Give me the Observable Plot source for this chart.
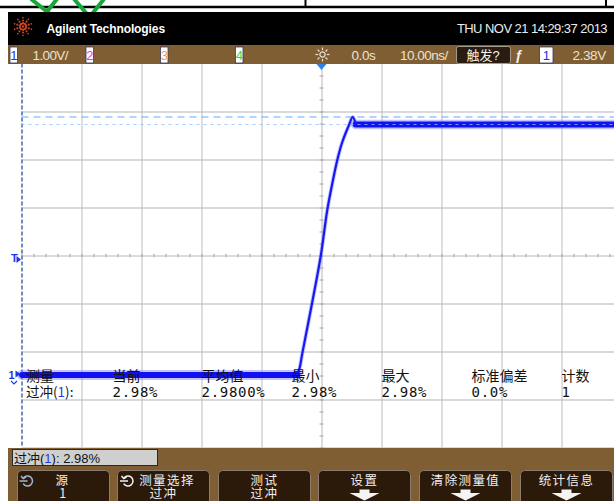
<!DOCTYPE html>
<html>
<head>
<meta charset="utf-8">
<script src="https://cdn.jsdelivr.net/npm/d3@7"></script>
<script src="https://cdn.jsdelivr.net/npm/@observablehq/plot@0.6"></script>
<style>
  html, body { margin: 0; padding: 0; background: #fff; }
  #screen { position: relative; width: 614px; height: 501px; overflow: hidden; background: #fff; }
  #screen > svg { position: absolute; left: 0; top: 0; }
</style>
</head>
<body>
<div id="screen"></div>
<script>
// ---- Scope settings ----
const voltsPerDiv = 1.00;
const centerVolts = 2.48;          // level at the middle graticule line
const timeWindow = [-50, 48.75];   // ns, trigger point at 0
const nsPerDiv = 10;

// ---- Channel 1 step response (time in ns, level in V) ----
const baseVolts = 0;
const topVolts = 5.22;
const overshootPct = 2.98;
const maxVolts = topVolts + (topVolts - baseVolts) * overshootPct / 100;

const lowTime  = [-50, -4.1];
const highTime = [5.6, 48.75];
const edgeTime  = [-4.1, -3.7, -3.3, -1.9, -0.25, 0.87, 1.7, 2.53, 3.37, 4.47, 5.13, 5.6];
const edgeVolts = [baseVolts, 0.16, 0.44, 1.34, 2.45, 3.43, 3.98, 4.47, 4.85, 5.2, maxVolts, 5.23];

// ---- Status line ----
const headerBrand = "Agilent Technologies";
const headerDate = "THU NOV 21 14:29:37 2013";
const channelLabels = ["1", "2", "3", "4"];
const channelColors = ["#2233dd", "#ff22ff", "#eea040", "#22dd55"];
const vScaleText = "1.00V/";
const delayText = "0.0s";
const timebaseText = "10.00ns/";
const triggerStateText = "触发?";
const triggerSource = "1";
const triggerLevelText = "2.38V";

// ---- Measurement statistics ----
const statHeads  = ["测量", "当前", "平均值", "最小", "最大", "标准偏差", "计数"];
const statValues = ["过冲(1):", "2.98%", "2.9800%", "2.98%", "2.98%", "0.0%", "1"];
const readoutText = ["过冲(", "1", "): 2.98%"];

// ---- Softkeys ----
const softkeyTop    = ["源", "测量选择", "测试", "设置", "清除测量值", "统计信息"];
const softkeyBottom = ["1", "过冲", "过冲", null, null, null];

// ---- Layout ----
const W = 614, H = 501;
const statColumnX = [26, 112.5, 201.5, 291.5, 381.5, 471.5, 561.5];
const softkeyX = [17.5, 117.5, 218.5, 318.5, 419.5, 520.5];
const softkeyW = 92;
const softkeyTextShift = [-1, 3.5, 0, 0, 0, 0];
const brown = "#7f5e34";

const lowSeg  = lowTime.map(t => ({t, v: baseVolts}));
const highSeg = highTime.map(t => ({t, v: topVolts}));
const edge    = edgeTime.map((t, i) => ({t, v: edgeVolts[i]}));

const verticalDivs   = d3.range(-4, 5).filter(k => k !== 0).map(k => k * nsPerDiv);
const horizontalDivs = d3.range(-4, 4).filter(k => k !== 0).map(k => centerVolts + k * voltsPerDiv);
const minorTimes = d3.range(-50, 49, nsPerDiv / 5);
const minorVolts = d3.range(-16, 17).map(k => centerVolts + k * voltsPerDiv / 4);

const plot = Plot.plot({
  width: W,
  height: H,
  marginTop: 63.5,
  marginBottom: 53.5,
  marginLeft: 21.5,
  marginRight: 0,
  x: {domain: timeWindow, axis: null},
  y: {domain: [centerVolts - 4 * voltsPerDiv, centerVolts + 4 * voltsPerDiv], axis: null},
  style: {background: "white"},
  marks: [
    // graticule
    Plot.ruleY(horizontalDivs, {stroke: "#d9d9d9", strokeWidth: 2}),
    Plot.ruleX(verticalDivs, {stroke: "#bcbcbc", strokeWidth: 1}),
    Plot.ruleX([0], {stroke: "#b8b8b8", strokeWidth: 1}),
    Plot.ruleY([centerVolts], {stroke: "#b8b8b8", strokeWidth: 1}),
    Plot.ruleX(minorTimes, {y1: centerVolts - 0.035, y2: centerVolts + 0.035, stroke: "#a4a4a4"}),
    Plot.ruleY(minorVolts, {x1: -0.33, x2: 0.33, stroke: "#a4a4a4"}),
    Plot.ruleX([timeWindow[0]], {stroke: "#6f8fb8", strokeWidth: 2, strokeDasharray: "4,2"}),
    // overshoot marker (maximum)
    Plot.ruleY([maxVolts], {stroke: "#5eaaff", strokeWidth: 1.2, strokeDasharray: "7,5"}),
    // trace halo
    Plot.line(lowSeg,  {x: "t", y: "v", stroke: "#7a7aff", strokeWidth: 10, strokeOpacity: 0.45}),
    Plot.line(highSeg, {x: "t", y: "v", stroke: "#7a7aff", strokeWidth: 9.5, strokeOpacity: 0.45}),
    Plot.line(edge,    {x: "t", y: "v", stroke: "#7a7aff", strokeWidth: 4, strokeOpacity: 0.45, curve: "catmull-rom"}),
    // trace core
    Plot.line(lowSeg,  {x: "t", y: "v", stroke: "#1212ee", strokeWidth: 6}),
    Plot.line(highSeg, {x: "t", y: "v", stroke: "#1212ee", strokeWidth: 6}),
    Plot.line(edge,    {x: "t", y: "v", stroke: "#1818f2", strokeWidth: 2.2, curve: "catmull-rom", strokeLinejoin: "round"}),
    // top level marker
    Plot.ruleY([topVolts], {stroke: "#86c2ff", strokeWidth: 1, strokeDasharray: "3,4", strokeOpacity: 0.8})
  ]
});
document.getElementById("screen").appendChild(plot);

// ---- Instrument chrome ----
const ov = d3.create("svg")
  .attr("width", W).attr("height", H)
  .attr("viewBox", `0 0 ${W} ${H}`)
  .style("font-family", "'Liberation Sans', 'Noto Sans CJK SC', sans-serif");

// strip above the screen
ov.append("line").attr("x1", 0).attr("x2", W).attr("y1", 7).attr("y2", 7).attr("stroke", "#000").attr("stroke-width", 2.5);
ov.append("line").attr("x1", 305.5).attr("x2", 305.5).attr("y1", 0).attr("y2", 7).attr("stroke", "#000").attr("stroke-width", 2);
ov.append("line").attr("x1", 606).attr("x2", 606).attr("y1", 0).attr("y2", 7).attr("stroke", "#000").attr("stroke-width", 2);
const green = ov.append("g").attr("stroke", "#18a83a").attr("stroke-width", 4).attr("fill", "none");
green.append("path").attr("d", "M31,-1 L50,14 M57,-1 L45,14");
green.append("path").attr("d", "M74,-1 L87,14 M104,-1 L92,14");

// header
ov.append("rect").attr("x", 8).attr("y", 12).attr("width", W - 8).attr("height", 33).attr("fill", "#000");
const logo = ov.append("g").attr("transform", "translate(23,26.5)");
for (let i = 0; i < 10; i++) {
  const a = i * Math.PI / 5 + Math.PI / 10;
  for (const [r, s] of [[3.2, 1.2], [6, 1.05], [8.8, 0.85]]) {
    logo.append("circle").attr("cx", r * Math.cos(a)).attr("cy", r * Math.sin(a)).attr("r", s).attr("fill", "#cc4420");
  }
}
logo.append("circle").attr("r", 1.2).attr("fill", "#cc4420");
ov.append("text").attr("x", 46.5).attr("y", 32.5).attr("fill", "#fff").attr("font-size", 12).attr("font-weight", "bold")
  .attr("letter-spacing", -0.1).text(headerBrand);
ov.append("text").attr("x", 607).attr("y", 33).attr("text-anchor", "end").attr("fill", "#ececec").attr("font-size", 13)
  .attr("letter-spacing", -0.55).text(headerDate);

// status line
ov.append("rect").attr("x", 8).attr("y", 45).attr("width", W - 8).attr("height", 19).attr("fill", brown);
const chanBoxX = [10, 86, 160.5, 235.5];
channelLabels.forEach((c, i) => {
  ov.append("rect").attr("x", chanBoxX[i]).attr("y", 47).attr("width", 7.5).attr("height", 16)
    .attr("fill", "#fff").attr("stroke", "#3a3a55").attr("stroke-width", 0.8);
  ov.append("text").attr("x", chanBoxX[i] + 3.75).attr("y", 60).attr("text-anchor", "middle")
    .attr("font-size", 13).attr("fill", channelColors[i]).text(c);
});
const statusText = (x, s, ls) => ov.append("text").attr("x", x).attr("y", 60).attr("fill", "#ebe2d0")
  .attr("font-size", 13.5).attr("letter-spacing", ls).text(s);
statusText(32.5, vScaleText, -0.6);
statusText(351.5, delayText, -0.4);
statusText(400, timebaseText, -0.5);
statusText(572.5, triggerLevelText, -0.4);
// delay (sun) icon
const sun = ov.append("g").attr("transform", "translate(322.5,54.5)").attr("stroke", "#ebe2d0").attr("stroke-width", 1.2).attr("fill", "none");
sun.append("circle").attr("r", 2.6);
for (let i = 0; i < 8; i++) {
  const a = i * Math.PI / 4;
  sun.append("line").attr("x1", 4.3 * Math.cos(a)).attr("y1", 4.3 * Math.sin(a)).attr("x2", 7 * Math.cos(a)).attr("y2", 7 * Math.sin(a));
}
// trigger state and source
ov.append("rect").attr("x", 456.5).attr("y", 46.5).attr("width", 54).attr("height", 17).attr("rx", 2)
  .attr("fill", "#2a1c10").attr("stroke", "#a69c8c");
ov.append("text").attr("x", 483).attr("y", 60).attr("text-anchor", "middle").attr("font-size", 13)
  .attr("fill", "#f2f2f2").text(triggerStateText);
ov.append("text").attr("x", 519).attr("y", 60).attr("text-anchor", "middle").attr("font-size", 14)
  .attr("font-weight", "bold").attr("fill", "#f2f2f2").text("ƒ");
ov.append("rect").attr("x", 539.5).attr("y", 47).attr("width", 13.5).attr("height", 16)
  .attr("fill", "#fff").attr("stroke", "#3a3a55").attr("stroke-width", 0.8);
ov.append("text").attr("x", 546.25).attr("y", 60).attr("text-anchor", "middle").attr("font-size", 13)
  .attr("fill", channelColors[0]).text(triggerSource);

// trigger position marker
ov.append("path").attr("d", "M316.5,64 L326.5,64 L321.5,70 Z").attr("fill", "#2a86e6");
// trigger level marker
ov.append("text").attr("x", 11).attr("y", 261.5).attr("font-size", 11).attr("font-weight", "bold").attr("fill", "#2233ee").text("T");
ov.append("path").attr("d", "M16.5,256 L16.5,263 L21,259.5 Z").attr("fill", "#2233ee");
// channel 1 ground marker
ov.append("text").attr("x", 8.5).attr("y", 379).attr("font-size", 11).attr("font-weight", "bold").attr("fill", "#2233ee").text("1");
ov.append("path").attr("d", "M15.5,370.5 L15.5,377.5 L20.5,374 Z").attr("fill", "#2233ee");
ov.append("path").attr("d", "M11,381 L14,384 L17,381").attr("stroke", "#2233ee").attr("stroke-width", 1.2).attr("fill", "none");

// measurement statistics
statHeads.forEach((s, i) => {
  ov.append("text").attr("x", statColumnX[i]).attr("y", 380.5).attr("font-size", 14)
    .attr("font-family", "'Noto Sans CJK SC', sans-serif").attr("fill", "#111").text(s);
});
statValues.forEach((s, i) => {
  const t = ov.append("text").attr("x", statColumnX[i]).attr("y", 396.8).attr("fill", "#111");
  if (i === 0) {
    t.attr("font-size", 13.5).attr("font-family", "'Noto Sans CJK SC', sans-serif");
    const m = s.match(/^(.*\()(\d)(\).*)$/);
    t.append("tspan").text(m[1]);
    t.append("tspan").attr("fill", "#2a3adf").text(m[2]);
    t.append("tspan").text(m[3]);
  } else {
    t.attr("font-size", 14).attr("font-family", "'DejaVu Sans Mono', monospace").attr("letter-spacing", 0.7).text(s);
  }
});

// softkey bar
ov.append("rect").attr("x", 8).attr("y", 448).attr("width", W - 8).attr("height", H - 448).attr("fill", brown);
ov.append("rect").attr("x", 12.5).attr("y", 449.5).attr("width", 145).attr("height", 16)
  .attr("fill", "#cfcfcf").attr("stroke", "#2a2a2a");
const ro = ov.append("text").attr("x", 14).attr("y", 463).attr("font-size", 13).attr("fill", "#111");
ro.append("tspan").text(readoutText[0]);
ro.append("tspan").attr("fill", "#2a3adf").text(readoutText[1]);
ro.append("tspan").text(readoutText[2]);

softkeyTop.forEach((label, i) => {
  const x = softkeyX[i], cx = x + softkeyW / 2;
  ov.append("rect").attr("x", x).attr("y", 470.5).attr("width", softkeyW).attr("height", 40).attr("rx", 4)
    .attr("fill", "#2b1a0a").attr("stroke", "#8c7c70").attr("stroke-width", 1);
  // two-line softkey caption as one text block
  const t = ov.append("text").attr("text-anchor", "middle")
    .attr("font-size", 12.5).attr("letter-spacing", 1.4).attr("font-family", "'Noto Sans CJK SC', sans-serif")
    .attr("fill", "#f0f0f0");
  t.append("tspan").attr("x", cx + softkeyTextShift[i]).attr("y", 485).text(label);
  if (softkeyBottom[i] !== null) {
    t.append("tspan").attr("x", cx).attr("y", 498).text(softkeyBottom[i]);
  } else {
    ov.append("path").attr("d", `M${cx - 5},489.5 L${cx + 5},489.5 L${cx + 5},493 L${cx + 15},493 L${cx},500.5 L${cx - 15},493 L${cx - 5},493 Z`)
      .attr("fill", "#f4f4f4");
  }
});
// rotary-knob icons on the first two softkeys
[[27.5, "#a4b4d2"], [128, "#f0f0f0"]].forEach(([x, col]) => {
  const g = ov.append("g").attr("stroke", col).attr("stroke-width", 1.5).attr("fill", "none");
  const r = 5, cy = 481;
  const a0 = -150 * Math.PI / 180, a1 = 150 * Math.PI / 180;
  g.append("path").attr("d", `M${x + r * Math.cos(a0)},${cy + r * Math.sin(a0)} A${r},${r} 0 1 1 ${x + r * Math.cos(a1)},${cy + r * Math.sin(a1)}`);
  g.append("line").attr("x1", x - 8).attr("y1", cy).attr("x2", x).attr("y2", cy);
  g.append("path").attr("d", `M${x - 6.5},${cy - 5} L${x - 4.3},${cy - 2.5} L${x - 1.5},${cy - 4}`);
});

document.getElementById("screen").appendChild(ov.node());
</script>
</body>
</html>
